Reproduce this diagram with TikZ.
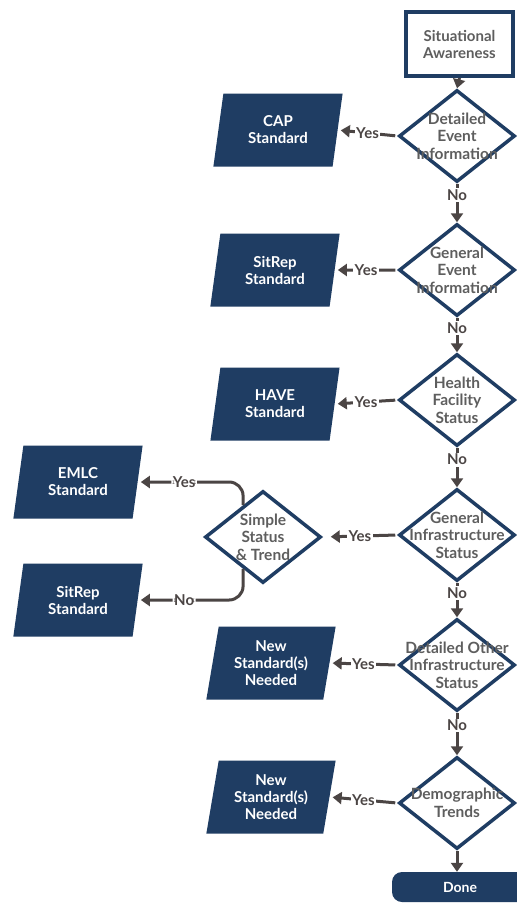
\documentclass[tikz,border=0pt]{standalone}
\usepackage{fontspec}
\setmainfont{Lato}
\usetikzlibrary{shapes.geometric}
\usetikzlibrary{positioning}
\usetikzlibrary{arrows.meta}
\definecolor{navy}{HTML}{1F3D63}
\definecolor{arrowgray}{HTML}{4B4544}
\definecolor{textgray}{HTML}{5E5E5E}
\begin{document}
\begin{tikzpicture}[x=1pt,y=-1pt,
  startbox/.style={rectangle,draw=navy,line width=4pt,fill=white,minimum width=107pt,minimum height=64pt,font=\fontsize{15}{17}\selectfont\bfseries,text=textgray,align=center},
  decision/.style={diamond,draw=navy,line width=3.5pt,fill=white,minimum width=116pt,minimum height=92pt,inner sep=0pt},
  dtext/.style={font=\fontsize{15.5}{17.5}\selectfont\bfseries,text=textgray,align=center,inner sep=0pt},
  standard/.style={trapezium,trapezium left angle=79,trapezium right angle=101,trapezium stretches=true,minimum width=130pt,minimum height=73pt,inner sep=0pt,fill=navy,text=white,font=\fontsize{15}{17}\selectfont\bfseries,align=center},
  flow/.style={draw=arrowgray,line width=3pt,-{Triangle[width=12pt,length=9pt]}},
  answer/.style={fill=white,inner sep=1.5pt,text=arrowgray,font=\fontsize{15}{17}\selectfont\bfseries}
]
\useasboundingbox (0,0) rectangle (517,903);
\clip (0,0) rectangle (517,903);
\fill[white] (0,0) rectangle (517,903);

\node[startbox] (sa) at (459.5,44) {Situational\\Awareness};

\node[decision,label={[dtext]center:Detailed\\Event\\Information}] (d1) at (457,136) {};
\node[decision,label={[dtext]center:General\\Event\\Information}] (d2) at (457,270) {};
\node[decision,label={[dtext]center:Health\\Facility\\Status}] (d3) at (457,400) {};
\node[decision,label={[dtext]center:General\\Infrastructure\\Status}] (d4) at (457,535) {};
\node[decision,label={[dtext]center:Detailed Other\\Infrastructure\\Status}] (d5) at (457,665) {};
\node[decision,label={[dtext]center:Demographic\\Trends}] (d6) at (457,803) {};
\node[decision,label={[dtext]center:Simple\\Status\\\& Trend}] (ds) at (263,537) {};

\node[standard] (cap) at (278,130) {CAP\\Standard};
\node[standard] (sitrep1) at (275,270) {SitRep\\Standard};
\node[standard] (have) at (275,404) {HAVE\\Standard};
\node[standard] (emlc) at (78,482) {EMLC\\Standard};
\node[standard] (sitrep2) at (78,600) {SitRep\\Standard};
\node[standard] (new1) at (271,663) {New\\Standard(s)\\Needed};
\node[standard] (new2) at (271,797) {New\\Standard(s)\\Needed};

\node[rectangle,rounded corners=10pt,fill=navy,text=white,minimum width=136pt,minimum height=30pt,font=\fontsize{14}{16}\selectfont\bfseries] (done) at (460,887) {Done};

\draw[flow] (sa.south) -- (d1.north);
\draw[flow] (d1.south) -- node[answer,pos=0.3]{No} (d2.north);
\draw[flow] (d2.south) -- node[answer,pos=0.3]{No} (d3.north);
\draw[flow] (d3.south) -- node[answer,pos=0.3]{No} (d4.north);
\draw[flow] (d4.south) -- node[answer,pos=0.3]{No} (d5.north);
\draw[flow] (d5.south) -- node[answer,pos=0.3]{No} (d6.north);
\draw[flow] (d6.south) -- (d6.south |- done.north);

\draw[flow,shorten <=2pt,shorten >=3pt] (d1.west) -- node[answer]{Yes} (cap.east);
\draw[flow,shorten <=2pt,shorten >=3pt] (d2.west) -- node[answer]{Yes} (sitrep1.east);
\draw[flow,shorten <=2pt,shorten >=3pt] (d3.west) -- node[answer]{Yes} (have.east);
\draw[flow,shorten <=2pt,shorten >=8pt] (d4.west) -- node[answer]{Yes} (ds.east);
\draw[flow,shorten <=2pt,shorten >=3pt] (d5.west) -- node[answer]{Yes} (new1.east);
\draw[flow,shorten <=2pt,shorten >=3pt] (d6.west) -- node[answer]{Yes} (new2.east);

\draw[flow,rounded corners=14pt,shorten >=3pt] (ds.122) |- node[answer,pos=0.78]{Yes} (emlc.east);
\draw[flow,rounded corners=14pt,shorten >=3pt] (ds.238) |- node[answer,pos=0.78]{No} (sitrep2.east);

\end{tikzpicture}
\end{document}
